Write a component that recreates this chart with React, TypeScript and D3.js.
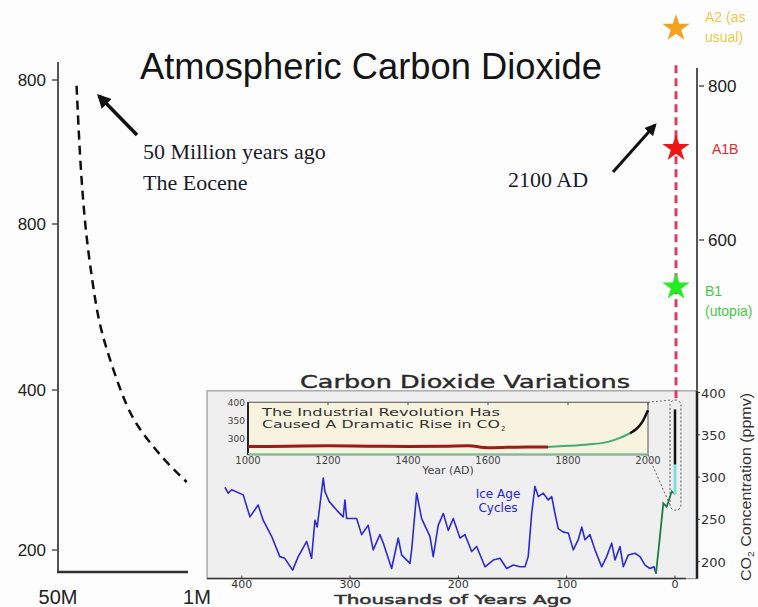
import * as d3 from 'd3';

const W = 758;
const H = 607;

// left panel: CO2 over the last 50 million years (Myr ago, ppm)
const eocene: [number, number][] = [
  [43, 792], [41.7, 689], [39.8, 596], [37.3, 536], [34.8, 484], [31.6, 448],
  [26.6, 400], [21.7, 362], [15.3, 334], [9, 309], [1.5, 285],
];
const leftTickValues = [200, 400, 600, 800];
const leftTickLabels = ['200', '400', '800', '800'];
const leftXTicks: [number, string][] = [[50, '50M'], [1, '1M']];

// right panel: 2100 projections (ppm)
const rightTicks = [600, 800];
const scenarios = [
  { name: ['A2 (as', 'usual)'], ppm: 875, star: '#f4a11d', text: '#efc84e' },
  { name: ['A1B'], ppm: 719, star: '#ee1515', text: '#dd2a2a' },
  { name: ['B1', '(utopia)'], ppm: 539, star: '#22ee22', text: '#48c848' },
];
const projectionRange = [827, 392];

// inset: ice core record (thousands of years ago, ppmv)
const iceAge: [number, number][] = [
  [415.5, 288], [412.5, 281], [409.3, 285], [398.6, 279], [392.4, 253], [384.8, 267],
  [380.2, 249], [372.4, 230], [364.8, 206], [360.2, 204], [353, 190], [347.8, 206],
  [340, 224], [335.5, 204], [332.4, 249], [330.3, 241], [324.7, 299], [323.2, 283],
  [319.2, 271], [312.4, 261], [306.3, 253], [304.7, 273], [303.1, 251], [293.9, 251],
  [289.3, 232], [283.2, 243], [278.6, 214], [272.4, 232], [269.3, 222], [261.6, 192],
  [255.5, 228], [252.4, 208], [244.7, 198], [243.1, 214], [238.5, 281], [233.9, 251],
  [226.2, 230], [223.2, 206], [218.6, 243], [213.9, 257], [209.3, 237], [204.7, 251],
  [198.5, 228], [193.9, 232], [187.7, 212], [183.1, 218], [175.4, 194], [167.8, 202],
  [161.6, 204], [155.4, 192], [149.3, 196], [143.1, 194], [138.5, 194], [135.5, 206],
  [132.3, 257], [129.3, 289], [126.2, 277], [121.6, 281], [117, 273], [113.8, 277],
  [110.8, 257], [107.8, 239], [103.1, 235], [98.5, 234], [93.9, 214], [89.3, 226],
  [86.1, 241], [83.1, 226], [78.5, 232], [73.9, 214], [67.7, 194], [63.1, 206],
  [58.4, 222], [55.4, 202], [50.8, 218], [47.7, 194], [43.1, 208], [36.9, 210],
  [32.3, 206], [27.7, 196], [23.1, 192], [19.4, 194], [17.5, 186],
];
const holocene: [number, number][] = [
  [17.5, 186], [16.9, 194], [13.9, 230], [10.8, 269], [7.7, 265], [4.6, 277], [3, 283], [0, 280],
];
const modernRise = [280, 315, 380];
const kyrTicks = [400, 300, 200, 100, 0];
const ppmTicks = [200, 250, 300, 350, 400];

// inner inset: last 1000 years (year AD, ppmv)
const preIndustrial: [number, number][] = [
  [1000, 279], [1100, 280], [1200, 281], [1300, 280], [1400, 279], [1500, 280],
  [1550, 281], [1600, 276], [1650, 277], [1700, 278], [1750, 278],
];
const earlyIndustrial: [number, number][] = [
  [1750, 278], [1800, 281], [1850, 285], [1900, 292], [1930, 303], [1955, 316],
];
const modern: [number, number][] = [[1955, 316], [1970, 327], [1985, 346], [2000, 380]];
const yearTicks = [1000, 1200, 1400, 1600, 1800, 2000];
const yearPpmTicks = [300, 350, 400];

const SANS = 'Liberation Sans, Arial, sans-serif';
const SERIF = 'Liberation Serif, Times New Roman, serif';
const WIDE = 'DejaVu Sans, Verdana, sans-serif';

export default function App() {
  const xLeft = d3.scaleLinear().domain([50, 1]).range([58, 188]);
  const yLeft = d3.scaleLinear().domain(leftTickValues).range([550, 390, 224, 80]);
  const yRight = d3.scaleLinear().domain([600, 800]).range([240, 86]);
  const xKyr = d3.scaleLinear().domain([400, 0]).range([241.7, 675]);
  const yIn = d3.scaleLinear().domain([200, 400]).range([561.7, 392.5]);
  const xYr = d3.scaleLinear().domain([1000, 2000]).range([248, 648]);
  const yYr = d3.scaleLinear().domain([300, 400]).range([439, 403]);

  const leftLine = d3.line<[number, number]>().x((d) => xLeft(d[0])).y((d) => yLeft(d[1])).curve(d3.curveBasis);
  const iceLine = d3.line<[number, number]>().x((d) => xKyr(d[0])).y((d) => yIn(d[1]));
  const yrLine = d3.line<[number, number]>().x((d) => xYr(d[0])).y((d) => yYr(d[1])).curve(d3.curveMonotoneX);
  const star = d3.symbol().type(d3.symbolStar).size(230)();

  const axisX = 697;
  const panelLeft = xKyr(432);
  const panelTop = yIn(402);
  const panelBottom = yIn(180);
  const boxTop = yYr(402);
  const boxBottom = yYr(256);
  const calloutL = xKyr(4.6);
  const calloutR = xKyr(-5.5);
  const calloutT = yIn(391);
  const calloutB = yIn(261);

  return (
    <svg width={W} height={H} style={{ position: 'absolute', left: 0, top: 0, background: '#fdfdfd' }}>
      <defs>
        <marker id="head" viewBox="0 0 10 10" refX="8" refY="5" markerWidth="4" markerHeight="4" orient="auto-start-reverse">
          <path d="M0,0 L10,5 L0,10 z" fill="#111" />
        </marker>
      </defs>
      <rect width={W} height={H} fill="#fdfdfd" />

      {/* title */}
      <text x={371} y={79} textAnchor="middle" fontFamily={SANS} fontSize={36} fill="#141414" textLength={462} lengthAdjust="spacingAndGlyphs">
        Atmospheric Carbon Dioxide
      </text>

      {/* left axis */}
      <line x1={58} x2={58} y1={62} y2={572} stroke="#555" strokeWidth={2} />
      <line x1={57} x2={xLeft(1)} y1={572} y2={572} stroke="#333" strokeWidth={2.5} />
      {leftTickValues.map((v, i) => (
        <g key={v}>
          <line x1={52} x2={58} y1={yLeft(v)} y2={yLeft(v)} stroke="#555" strokeWidth={1.5} />
          <text x={46} y={yLeft(v) + 6} textAnchor="end" fontFamily={SANS} fontSize={17} fill="#222">
            {leftTickLabels[i]}
          </text>
        </g>
      ))}
      {leftXTicks.map(([v, label], i) => (
        <text key={label} x={xLeft(v) + (i === 0 ? 0 : 9)} y={604} textAnchor="middle" fontFamily={SANS} fontSize={20} fill="#222">
          {label}
        </text>
      ))}
      <path d={leftLine(eocene) ?? ''} fill="none" stroke="#111" strokeWidth={2.5} strokeDasharray="9 6" />

      <line x1={137} y1={135} x2={99} y2={96} stroke="#111" strokeWidth={3.5} markerEnd="url(#head)" />
      <text x={143} y={159} fontFamily={SERIF} fontSize={22} fill="#1a1a2a">50 Million years ago</text>
      <text x={143} y={190} fontFamily={SERIF} fontSize={22} fill="#1a1a2a">The Eocene</text>

      {/* right axis for projections */}
      <line x1={axisX} x2={axisX} y1={68} y2={panelBottom} stroke="#555" strokeWidth={2} />
      {rightTicks.map((v) => (
        <g key={v}>
          <line x1={axisX + 2} x2={axisX + 7} y1={yRight(v)} y2={yRight(v)} stroke="#555" strokeWidth={1.5} />
          <text x={708} y={yRight(v) + 6} fontFamily={SANS} fontSize={17} fill="#222">{v}</text>
        </g>
      ))}

      <line x1={613} y1={172} x2={655} y2={125} stroke="#111" strokeWidth={3} markerEnd="url(#head)" />
      <text x={508} y={187} fontFamily={SERIF} fontSize={22} fill="#1a1a2a">2100 AD</text>

      {/* inset panel */}
      <rect x={panelLeft} y={panelTop} width={axisX - panelLeft} height={panelBottom - panelTop} fill="#efefef" stroke="#999" strokeWidth={1.2} />
      <text x={465} y={388} textAnchor="middle" fontFamily={WIDE} fontSize={18} fill="#2a2a2a" stroke="#2a2a2a" strokeWidth={0.4} textLength={330} lengthAdjust="spacingAndGlyphs">
        Carbon Dioxide Variations
      </text>

      {/* inner inset box */}
      <rect x={xYr(1000)} y={boxTop} width={xYr(2000) - xYr(1000)} height={boxBottom - boxTop} fill="#f8f3de" stroke="#555" strokeWidth={1} />
      <line x1={xYr(1000)} x2={xYr(1000)} y1={boxTop} y2={boxBottom} stroke="#222" strokeWidth={2} />
      <line x1={xYr(1000)} x2={xYr(2000)} y1={boxBottom - 1} y2={boxBottom - 1} stroke="#8fd8a8" strokeWidth={1.5} />
      {yearTicks.map((t) => (
        <g key={t}>
          <line x1={xYr(t)} x2={xYr(t)} y1={boxTop} y2={boxTop + 3} stroke="#555" />
          <text x={xYr(t)} y={464} textAnchor="middle" fontFamily={WIDE} fontSize={10} fill="#444">{t}</text>
        </g>
      ))}
      {yearPpmTicks.map((t) => (
        <text key={t} x={xYr(1000) - 3} y={yYr(t) + 3} textAnchor="end" fontFamily={WIDE} fontSize={9} fill="#444">{t}</text>
      ))}
      <text x={xYr(1500)} y={474} textAnchor="middle" fontFamily={WIDE} fontSize={11} fill="#444">Year (AD)</text>
      <text x={262} y={416} fontFamily={WIDE} fontSize={11} fill="#333" textLength={238} lengthAdjust="spacingAndGlyphs">
        The Industrial Revolution Has
      </text>
      <text x={262} y={428} fontFamily={WIDE} fontSize={11} fill="#333" textLength={238} lengthAdjust="spacingAndGlyphs">
        Caused A Dramatic Rise in CO
      </text>
      <text x={501} y={431} fontFamily={WIDE} fontSize={7} fill="#333">2</text>
      <path d={yrLine(preIndustrial) ?? ''} fill="none" stroke="#9c1a1a" strokeWidth={3} />
      <path d={yrLine(earlyIndustrial) ?? ''} fill="none" stroke="#3fae6e" strokeWidth={2} />
      <path d={yrLine(modern) ?? ''} fill="none" stroke="#111" strokeWidth={2.5} />

      {/* callout from inner box to the modern spike */}
      <line x1={xYr(2000)} y1={boxTop} x2={calloutL} y2={calloutT} stroke="#666" strokeWidth={1} strokeDasharray="2 2" />
      <line x1={xYr(2000)} y1={boxBottom} x2={calloutL} y2={calloutB - 5} stroke="#666" strokeWidth={1} strokeDasharray="2 2" />
      <rect x={calloutL} y={calloutT} width={calloutR - calloutL} height={calloutB - calloutT} rx={5} fill="none" stroke="#555" strokeWidth={1} strokeDasharray="2 2" />

      {/* ice age record */}
      <path d={iceLine(iceAge) ?? ''} fill="none" stroke="#2b2bd6" strokeWidth={1.6} strokeLinejoin="round" />
      <path d={iceLine(holocene) ?? ''} fill="none" stroke="#1f7a45" strokeWidth={1.8} />
      <line x1={xKyr(0)} x2={xKyr(0)} y1={yIn(modernRise[0])} y2={yIn(modernRise[1])} stroke="#7fe0e0" strokeWidth={3} />
      <line x1={xKyr(0)} x2={xKyr(0)} y1={yIn(modernRise[1])} y2={yIn(modernRise[2])} stroke="#111" strokeWidth={2.5} />
      <text x={498} y={498} textAnchor="middle" fontFamily={WIDE} fontSize={12} fill="#2525e0">Ice Age</text>
      <text x={498} y={512} textAnchor="middle" fontFamily={WIDE} fontSize={12} fill="#2525e0">Cycles</text>

      {/* inset axes */}
      <line x1={panelLeft} x2={xKyr(-10)} y1={panelBottom} y2={panelBottom} stroke="#333" strokeWidth={1.5} />
      {kyrTicks.map((t) => (
        <g key={t}>
          <line x1={xKyr(t)} x2={xKyr(t)} y1={panelBottom - 3} y2={panelBottom} stroke="#333" />
          <text x={xKyr(t)} y={588} textAnchor="middle" fontFamily={WIDE} fontSize={11} fill="#333">{t}</text>
        </g>
      ))}
      <text x={453} y={604} textAnchor="middle" fontFamily={WIDE} fontSize={13} fill="#333" stroke="#333" strokeWidth={0.5} textLength={237} lengthAdjust="spacingAndGlyphs">
        Thousands of Years Ago
      </text>
      <line x1={axisX} x2={axisX} y1={panelTop} y2={panelBottom} stroke="#222" strokeWidth={2.5} />
      {ppmTicks.map((t) => (
        <g key={t}>
          <line x1={axisX} x2={axisX + 3} y1={yIn(t)} y2={yIn(t)} stroke="#333" />
          <text x={701} y={yIn(t) + 5} fontFamily={WIDE} fontSize={13} fill="#333">{t}</text>
        </g>
      ))}
      <text transform={`translate(751, ${487}) rotate(-90)`} textAnchor="middle" fontFamily={SANS} fontSize={14} fill="#333" textLength={188} lengthAdjust="spacingAndGlyphs">
        CO<tspan fontSize={9} dy={3}>2</tspan><tspan dy={-3}> Concentration (ppmv)</tspan>
      </text>

      {/* 2100 projections */}
      <line x1={676} x2={676} y1={yRight(projectionRange[0])} y2={yRight(projectionRange[1])} stroke="#d8405e" strokeWidth={3} strokeDasharray="8 5" />
      {scenarios.map((s) => (
        <g key={s.name[0]}>
          <path d={star ?? ''} transform={`translate(676, ${yRight(s.ppm)})`} fill={s.star} />
          {s.name.map((line, i) => (
            <text key={line} x={s.name.length === 1 ? 712 : 705} y={yRight(s.ppm) + (s.name.length === 1 ? 6 : i * 20 + (s.ppm > 800 ? -6 : 9))} fontFamily={SANS} fontSize={14} fill={s.text}>
              {line}
            </text>
          ))}
        </g>
      ))}
    </svg>
  );
}
